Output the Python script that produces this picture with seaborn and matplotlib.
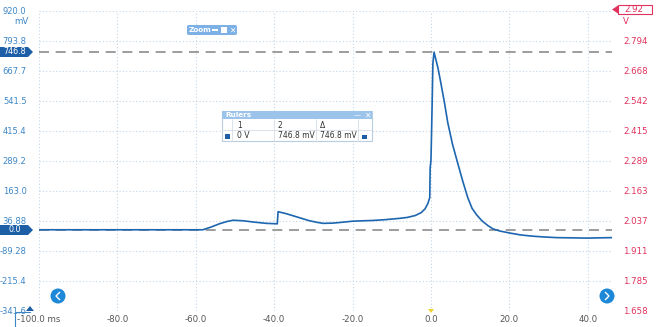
import numpy as np
import pandas as pd
import matplotlib
matplotlib.use("Agg")
import matplotlib.pyplot as plt
from matplotlib.patches import FancyBboxPatch, Rectangle, Polygon, Ellipse
import seaborn as sns

# ---- data ----
time_ms = [-100, -80, -60, -58.2, -56, -54, -52, -50.5, -48, -45, -42, -39.2,
           -39.0, -37, -35, -33, -31, -29, -27.5, -25, -23, -20, -17, -15, -12,
           -10, -8, -6, -4, -2.5, -1.5, -0.8, -0.3, -0.2, 0.0, 0.1, 0.3, 0.5,
           0.8, 1.2, 1.8, 2.5, 3.5, 4.3, 5.5, 7.0, 8.2, 9.4, 10.5, 11.7, 13.0,
           14.5, 15.8, 17.5, 20.2, 23, 26, 28.6, 32, 36, 39.8, 43, 46.2]
voltage_mv = [0, 0, 0, 0, 12, 25, 35, 40, 38, 32, 27, 25,
              76, 68, 58, 48, 38, 31, 27, 28, 31, 36, 38, 39, 42,
              45, 48, 52, 60, 72, 88, 110, 135, 260, 290, 360, 520, 700,
              747, 720, 680, 620, 530, 450, 360, 270, 200, 135, 90, 62, 38,
              18, 4, -5, -14, -22, -27, -30, -33, -34, -35, -34, -33]

x_ticks = [-100, -80, -60, -40, -20, 0, 20, 40]
x_labels = ["-100.0 ms", "-80.0", "-60.0", "-40.0", "-20.0", "0.0", "20.0", "40.0"]
y_labels_mv = ["920.0", "793.8", "667.7", "541.5", "415.4", "289.2", "163.0",
               "36.88", "-89.28", "-215.4", "-341.6"]
y_labels_v = ["", "2.794", "2.668", "2.542", "2.415", "2.289", "2.163",
              "2.037", "1.911", "1.785", "1.658"]
ruler_level_mv = 746.8
zero_level_mv = 0.0

y_top, y_bot = 920.0, -341.6
x_left, x_right = -100.0, 46.2

sns.set_style("white")
plt.rcParams['font.family'] = ['Liberation Sans Narrow', 'DejaVu Sans']

W, H = 656, 327
fig = plt.figure(figsize=(W / 100, H / 100), dpi=100)
ax = fig.add_axes([39 / W, 1 - 311 / H, (612 - 39) / W, 300 / H])

df = pd.DataFrame({"t": time_ms, "v": voltage_mv})
sns.lineplot(data=df, x="t", y="v", ax=ax, color="#1d66b0", linewidth=1.2, zorder=5)

ax.set_xlim(x_left, x_right)
ax.set_ylim(y_bot, y_top)
yt = np.linspace(y_top, y_bot, 11)
ax.set_yticks(yt)
ax.set_yticklabels(y_labels_mv)
ax.set_xticks(x_ticks)
ax.set_xticklabels(x_labels)
ax.set_xlabel("")
ax.set_ylabel("")
for s in ax.spines.values():
    s.set_visible(False)
ax.grid(True, color="#c5d6e6", linestyle=(0, (1, 2)), linewidth=0.8)
ax.tick_params(axis="y", length=0, pad=9, labelsize=6.0, labelcolor="#3d86c6")
ax.tick_params(axis="x", length=0, pad=3, labelsize=6.2, labelcolor="#555555")
xl = ax.get_xticklabels()
xl[0].set_x(-100)

ax2 = ax.twinx()
ax2.set_ylim(ax.get_ylim())
ax2.set_yticks(yt)
ax2.set_yticklabels(y_labels_v)
for s in ax2.spines.values():
    s.set_visible(False)
ax2.tick_params(axis="y", length=0, pad=8, labelsize=6.2, labelcolor="#e0325c")

# dashed ruler lines
for lvl in (ruler_level_mv, zero_level_mv):
    ax.axhline(lvl, color="#8c8c8c", linestyle=(0, (6, 4)), linewidth=1.2, zorder=4)

# figure-pixel helpers
def fx(px):
    return px / W

def fy(py):
    return 1 - py / H

# units
fig.text(fx(21), fy(22), "mV", color="#3d86c6", fontsize=6.2, ha="center", va="center")
fig.text(fx(626), fy(22), "V", color="#e0325c", fontsize=6.2, ha="center", va="center")

# left level tags
def level_tag(py, text):
    poly = Polygon([(fx(0), fy(py - 5)), (fx(28), fy(py - 5)), (fx(33), fy(py)),
                    (fx(28), fy(py + 5)), (fx(0), fy(py + 5))],
                   closed=True, transform=fig.transFigure, facecolor="#1d5fa6",
                   edgecolor="none", zorder=10)
    fig.add_artist(poly)
    fig.text(fx(15), fy(py), text, color="white", fontsize=5.8, ha="center",
             va="center", zorder=11)

level_tag(52, "746.8")
level_tag(230, "0.0")

# right top tag 2.92
fig.add_artist(Rectangle((fx(618), fy(14)), 34 / W, 9 / H, transform=fig.transFigure,
                         facecolor="white", edgecolor="#e0325c", linewidth=0.8, zorder=10))
fig.add_artist(Polygon([(fx(612), fy(9.5)), (fx(618), fy(5.5)), (fx(618), fy(13.5))],
                       closed=True, transform=fig.transFigure, facecolor="#e0325c",
                       edgecolor="none", zorder=10))
fig.text(fx(634), fy(9.5), "2.92", color="#e0325c", fontsize=6.2, ha="center",
         va="center", zorder=11)

# zoom toolbar
fig.add_artist(FancyBboxPatch((fx(187), fy(35)), 50 / W, 10 / H,
                              boxstyle="round,pad=0,rounding_size=0.004",
                              transform=fig.transFigure, facecolor="#7db1e6",
                              edgecolor="none", zorder=10))
fig.text(fx(189), fy(30), "Zoom", color="white", fontsize=5.2, fontweight="bold",
         ha="left", va="center", zorder=11)
fig.add_artist(Rectangle((fx(212), fy(31)), 6 / W, 2.5 / H, transform=fig.transFigure,
                         facecolor="white", edgecolor="none", zorder=11))
fig.add_artist(Rectangle((fx(221), fy(33)), 6 / W, 6 / H, transform=fig.transFigure,
                         facecolor="white", edgecolor="none", zorder=11))
fig.text(fx(232), fy(30), "\u2715", color="white", fontsize=5.5, ha="center",
         va="center", zorder=11, family="DejaVu Sans")

# rulers widget
bx0, bx1, by0, by1 = 222, 372, 111, 141
fig.add_artist(Rectangle((fx(bx0), fy(by1)), (bx1 - bx0) / W, (by1 - by0) / H,
                         transform=fig.transFigure, facecolor="white",
                         edgecolor="#b9cde0", linewidth=0.8, zorder=10))
fig.add_artist(Rectangle((fx(bx0), fy(119)), (bx1 - bx0) / W, 8 / H,
                         transform=fig.transFigure, facecolor="#9cc4ea",
                         edgecolor="none", zorder=11))
fig.text(fx(225), fy(115), "Rulers", color="white", fontsize=5.2, fontweight="bold",
         ha="left", va="center", zorder=12)
fig.text(fx(357), fy(115), "\u2014", color="white", fontsize=5, ha="center",
         va="center", zorder=12, family="DejaVu Sans")
fig.text(fx(367), fy(115), "\u2715", color="white", fontsize=5.5, ha="center",
         va="center", zorder=12, family="DejaVu Sans")
for cx in (232, 274, 316, 358):
    fig.add_artist(plt.Line2D([fx(cx), fx(cx)], [fy(119), fy(141)],
                              transform=fig.transFigure, color="#d5dde6",
                              linewidth=0.6, zorder=12))
fig.add_artist(plt.Line2D([fx(bx0), fx(bx1)], [fy(130), fy(130)],
                          transform=fig.transFigure, color="#d5dde6",
                          linewidth=0.6, zorder=12))
fig.text(fx(237), fy(125), "1", color="#333333", fontsize=5.5, va="center", zorder=12)
fig.text(fx(278), fy(125), "2", color="#333333", fontsize=5.5, va="center", zorder=12)
fig.text(fx(320), fy(125), "\u0394", color="#333333", fontsize=5.5, va="center",
         zorder=12, family="DejaVu Sans")
fig.add_artist(Rectangle((fx(225), fy(138.5)), 5 / W, 5 / H, transform=fig.transFigure,
                         facecolor="#1d5fa6", edgecolor="none", zorder=12))
fig.text(fx(237), fy(136), "0 V", color="#333333", fontsize=5.5, va="center", zorder=12)
fig.text(fx(278), fy(136), "746.8 mV", color="#333333", fontsize=5.5, va="center", zorder=12)
fig.text(fx(320), fy(136), "746.8 mV", color="#333333", fontsize=5.5, va="center", zorder=12)
fig.add_artist(Rectangle((fx(362), fy(139)), 5 / W, 4 / H, transform=fig.transFigure,
                         facecolor="#1d5fa6", edgecolor="none", zorder=12))

# navigation buttons
for cx in (58, 607):
    fig.add_artist(Ellipse((fx(cx), fy(296)), 15 / W, 15 / H, transform=fig.transFigure,
                           facecolor="#1e88d8", edgecolor="none", zorder=10))
fig.add_artist(Polygon([(fx(60), fy(292)), (fx(56), fy(296)), (fx(60), fy(300))],
                       closed=False, fill=False, transform=fig.transFigure,
                       edgecolor="white", linewidth=1.0, zorder=11))
fig.add_artist(Polygon([(fx(605), fy(292)), (fx(609), fy(296)), (fx(605), fy(300))],
                       closed=False, fill=False, transform=fig.transFigure,
                       edgecolor="white", linewidth=1.0, zorder=11))

# trigger marker
fig.add_artist(Polygon([(fx(428), fy(309)), (fx(434), fy(309)), (fx(431), fy(313))],
                       closed=True, transform=fig.transFigure, facecolor="#f2d22e",
                       edgecolor="none", zorder=10))
# bottom-left channel marker
fig.add_artist(Polygon([(fx(26), fy(311)), (fx(30), fy(306)), (fx(34), fy(311))],
                       closed=True, transform=fig.transFigure, facecolor="#1d5fa6",
                       edgecolor="none", zorder=10))
fig.add_artist(plt.Line2D([fx(15), fx(15), fx(30)], [fy(327), fy(312), fy(312)],
                          transform=fig.transFigure,
                          color="#3d86c6", linewidth=0.8, zorder=10))

fig.savefig("out.png", dpi=100)
